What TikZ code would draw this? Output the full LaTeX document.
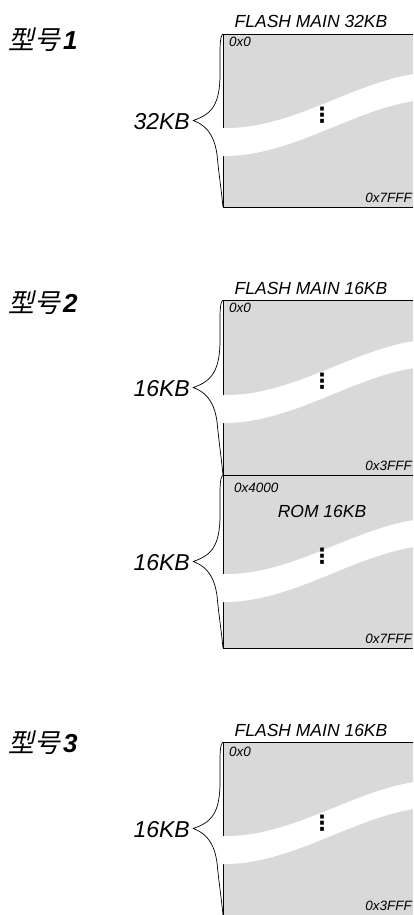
\documentclass[tikz,border=0pt]{standalone}
\usepackage{fontspec}
\setmainfont{Liberation Sans}
\newfontfamily\cjkfont[FakeSlant=0.22]{Noto Sans CJK SC}
\newfontfamily\dotsfont{DejaVu Sans}
\usetikzlibrary{positioning,calc}
\definecolor{memgray}{HTML}{D9D9D9}
\tikzset{memline/.style={line width=0.9pt},
  membrace/.style={line width=0.7pt,line join=round},
  addr/.style={font=\itshape\fontsize{13.5}{13.5}\selectfont,inner sep=1pt},
  blktitle/.style={font=\itshape\fontsize{17.5}{17.5}\selectfont,inner sep=1pt},
  sizelbl/.style={font=\itshape\fontsize{23}{23}\selectfont,anchor=east,inner sep=1pt},
  model/.style={font=\fontsize{26}{26}\selectfont,anchor=west,inner sep=0pt},
  vdot/.style={font=\dotsfont\bfseries\fontsize{21}{21}\selectfont,inner sep=0pt}}
\newcommand\modelname[1]{{\cjkfont 型号}\kern3pt\textbf{\textit{#1}}}

\begin{document}
\begin{tikzpicture}[x=1pt,y=-1pt]
\useasboundingbox (0,0) rectangle (413,915);
% memory sections: top / height / band shift / size
\foreach \top/\h/\bs/\sz/\n in {34/173/0/32KB/1,300/175/1/16KB/2,475/173/5/16KB/3,742/173/0/16KB/4} {
 \begin{scope}[shift={(0,\top)}]
 \fill[memgray] (223,0) rectangle (413,\h);
 \draw[memline] (223,0) -- (223,\h);
 \fill[white] (222,94+\bs) .. controls (290,96+\bs) and (350,50+\bs) .. (414,40+\bs)
   -- (414,67+\bs) .. controls (350,77+\bs) and (290,123+\bs) .. (222,122+\bs) -- cycle;
 \node[vdot] (dots\n) at (322,81) {⋮};
 \draw[membrace] (223,0) .. controls (219.5,3) and (220,12) .. (220,40)
   .. controls (220,70) and (212,\h/2-6) .. (193,\h/2)
   .. controls (210,\h/2+6) and (215,\h/2+20) .. (217,\h/2+34)
   .. controls (219,\h/2+55) and (221,\h-20) .. (223,\h);
 \node[sizelbl] (size\n) at (191,\h/2+1) {\sz};
 \end{scope}}
% borders
\draw[memline] (223,34) -- (413,34) (223,207) -- (413,207);
\draw[memline] (223,300) -- (413,300) (223,475) -- (413,475) (223,648) -- (413,648);
\draw[memline] (223,742) -- (413,742);
% models
\node[model] (model1) at (8,40) {\modelname{1}};
\node[model] (model2) at (8,303) {\modelname{2}};
\node[model] (model3) at (8,743) {\modelname{3}};
% titles
\node[blktitle] (title1) at (311,21) {FLASH MAIN 32KB};
\node[blktitle] (title2) at (311,288) {FLASH MAIN 16KB};
\node[blktitle] (title3) at (311,730) {FLASH MAIN 16KB};
\node[blktitle] (rom) at (322,511) {ROM 16KB};
% addresses
\node[addr,anchor=west] (a1s) at (228,42) {0x0};
\node[addr,anchor=east] (a1e) at (413,198) {0x7FFF};
\node[addr,anchor=west] (a2s) at (228,308) {0x0};
\node[addr,anchor=east] (a2m) at (413,466) {0x3FFF};
\node[addr,anchor=west] (a2r) at (233,488) {0x4000};
\node[addr,anchor=east] (a2e) at (413,639) {0x7FFF};
\node[addr,anchor=west] (a3s) at (228,752) {0x0};
\node[addr,anchor=east] (a3e) at (413,906) {0x3FFF};
\end{tikzpicture}
\end{document}
